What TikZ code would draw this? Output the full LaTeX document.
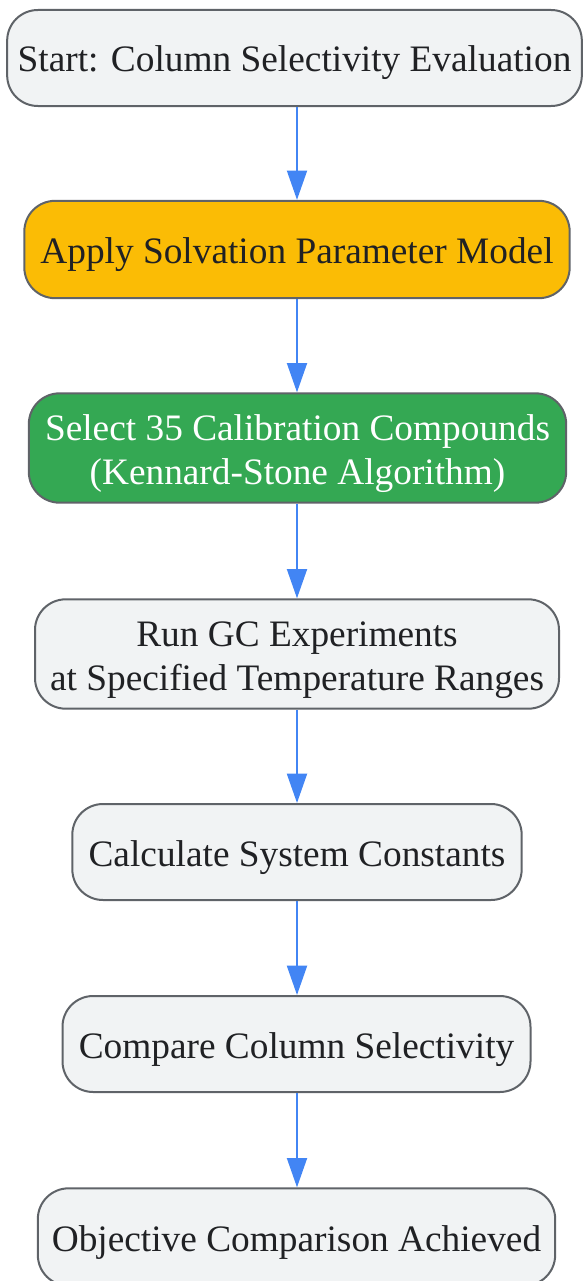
\documentclass[tikz,border=0pt]{standalone}
\usepackage{fontspec}
\setmainfont{Liberation Serif}
\usetikzlibrary{arrows.meta}
\definecolor{boxfill}{HTML}{F1F3F4}
\definecolor{boxline}{HTML}{5F6368}
\definecolor{textdark}{HTML}{202124}
\definecolor{applyfill}{HTML}{FBBC05}
\definecolor{selectfill}{HTML}{34A853}
\definecolor{flowblue}{HTML}{4285F4}
\newcommand{\topstrut}{\rule{0pt}{27.5pt}}
\newcommand{\botstrut}{\rule[-6.5pt]{0pt}{6.5pt}}
\tikzset{
  stepbox/.style={draw=boxline, line width=1.5pt, fill=boxfill, text=textdark,
    rounded corners=23pt, align=center, inner sep=0pt,
    font=\fontsize{28}{33}\selectfont,
    execute at begin node=\topstrut, execute at end node=\botstrut},
  flow/.style={draw=flowblue, line width=1.5pt, -{Triangle[length=22pt,width=15pt]}}
}
\begin{document}
\begin{tikzpicture}[x=.75pt,y=-.75pt]
        \useasboundingbox (0,0) rectangle (583,1281);

        % process steps
        \node[stepbox, minimum width=431pt, minimum height=72pt] (start) at (294.5,58) {Start: Column Selectivity Evaluation};
        \node[stepbox, fill=applyfill, minimum width=409pt, minimum height=73pt] (apply) at (297,249.5) {Apply Solvation Parameter Model};
        \node[stepbox, fill=selectfill, text=white, minimum width=403pt, minimum height=82pt] (select) at (297.5,448) {\topstrut Select 35 Calibration Compounds\\(Kennard-Stone Algorithm)\botstrut};
        \node[stepbox, minimum width=393pt, minimum height=82pt] (run) at (297,654) {\topstrut Run GC Experiments\\at Specified Temperature Ranges\botstrut};
        \node[stepbox, minimum width=337pt, minimum height=72pt] (calc) at (297,852) {Calculate System Constants};
        \node[stepbox, minimum width=351pt, minimum height=72pt] (compare) at (296.5,1044) {Compare Column Selectivity};
        \node[stepbox, minimum width=388pt, minimum height=73pt] (objective) at (296.5,1237) {Objective Comparison Achieved};

        % connectors
        \draw[flow] (start.south -| 297,0) -- (apply.north -| 297,0);
        \draw[flow] (apply.south -| 297,0) -- (select.north -| 297,0);
        \draw[flow] (select.south -| 297,0) -- (run.north -| 297,0);
        \draw[flow] (run.south -| 297,0) -- (calc.north -| 297,0);
        \draw[flow] (calc.south -| 297,0) -- (compare.north -| 297,0);
        \draw[flow] (compare.south -| 297,0) -- (objective.north -| 297,0);
      \end{tikzpicture}
\end{document}
